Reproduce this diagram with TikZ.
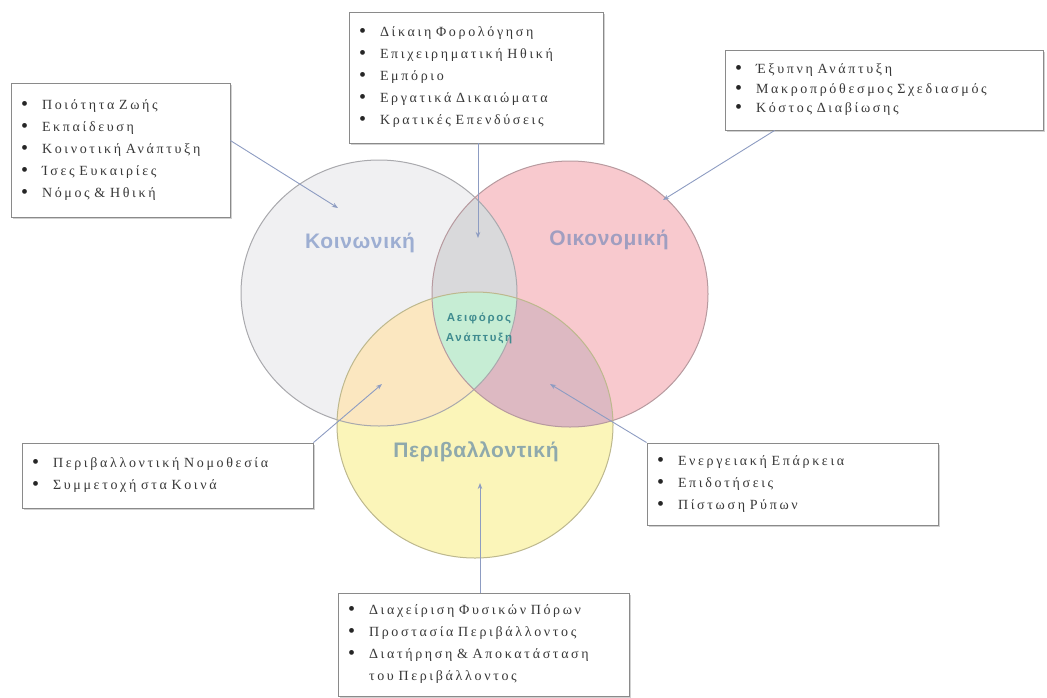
\documentclass[tikz,border=0pt]{standalone}
\usepackage{fontspec}
\setmainfont{Liberation Serif}
\newfontfamily\boxfont[LetterSpace=19]{Liberation Serif}
\newfontfamily\lblfont[LetterSpace=3]{Liberation Sans}
\newfontfamily\ctrfont[LetterSpace=15]{Liberation Sans}
\usetikzlibrary{arrows.meta,calc,shadows}
\definecolor{cL}{HTML}{F0F0F2}
\definecolor{cR}{HTML}{F8C9CE}
\definecolor{cB}{HTML}{FBF5B9}
\definecolor{cLR}{HTML}{D9D9DB}
\definecolor{cLB}{HTML}{FBE7C0}
\definecolor{cRB}{HTML}{DDB9C2}
\definecolor{cLRB}{HTML}{C6EDD4}
\definecolor{eL}{HTML}{A9A9AD}
\definecolor{eR}{HTML}{B79A9F}
\definecolor{eB}{HTML}{BDB88E}
\definecolor{cConn}{HTML}{8D9CC2}
\definecolor{boxtext}{HTML}{383838}
\definecolor{boxline}{HTML}{8A8A8A}
\definecolor{tL}{HTML}{9DAED2}
\definecolor{tR}{HTML}{A09EC0}
\definecolor{tB}{HTML}{8FA9AC}
\definecolor{tC}{HTML}{3F8B8F}
\newcommand\bitem[1]{\makebox[21pt][l]{\raisebox{-1pt}{\color{black!85}\fontsize{20}{20}\selectfont •}}#1}
\protected\def\boxsetup{\boxfont\fontsize{14}{22}\selectfont\spaceskip=8pt\relax}
\protected\def\boxsetupb{\boxfont\fontsize{14}{19.5}\selectfont\spaceskip=8pt\relax}
\tikzset{
  infobox/.style={draw=boxline, line width=0.9pt, fill=white,
    drop shadow={shadow xshift=1.5pt, shadow yshift=-1.5pt, fill=black!30, opacity=0.6},
    align=left, inner xsep=10pt, inner ysep=0pt, text=boxtext,
    font=\boxsetup},
  lbl/.style={font=\lblfont\bfseries\fontsize{21}{24}\selectfont},
  ctr/.style={font=\ctrfont\bfseries\fontsize{11.5}{20}\selectfont, text=tC, align=center},
  connector/.style={draw=cConn, line width=0.9pt, -{Stealth[length=6pt,width=4.5pt]}},
}
\def\circL{(379,293) ellipse [x radius=138pt, y radius=133pt]}
\def\circR{(570,294) ellipse [x radius=138pt, y radius=133pt]}
\def\circB{(475,425) ellipse [x radius=138pt, y radius=133pt]}
\begin{document}
\begin{tikzpicture}[x=1pt,y=-1pt]
\useasboundingbox (0,0) rectangle (1047,697);
% base fills
\fill[cL] \circL;
\fill[cR] \circR;
\fill[cB] \circB;
% pairwise overlaps
\begin{scope}\clip \circL; \fill[cLR] \circR; \end{scope}
\begin{scope}\clip \circL; \fill[cLB] \circB; \end{scope}
\begin{scope}\clip \circR; \fill[cRB] \circB; \end{scope}
\begin{scope}\clip \circL; \clip \circR; \fill[cLRB] \circB; \end{scope}
% outlines
\draw[eL, line width=1pt] \circL;
\draw[eR, line width=1pt] \circR;
\draw[eB, line width=1pt] \circB;
% labels
\node[lbl, text=tL] (kL) at (360,243) {Κοινωνική};
\node[lbl, text=tR] (kR) at (609,240) {Οικονομική};
\node[lbl, text=tB] (kB) at (476,452) {Περιβαλλοντική};
\node[ctr] (kC) at (479,328) {Αειφόρος\\Ανάπτυξη};
% boxes
\node[infobox, text width=199pt, minimum height=134pt] (b1) at (120.5,150)
  {\bitem{Ποιότητα Ζωής}\\\bitem{Εκπαίδευση}\\\bitem{Κοινοτική Ανάπτυξη}\\\bitem{Ίσες Ευκαιρίες}\\\bitem{Νόμος \& Ηθική}};
\node[infobox, text width=234pt, minimum height=131pt] (b2) at (476,77.5)
  {\bitem{Δίκαιη Φορολόγηση}\\\bitem{Επιχειρηματική Ηθική}\\\bitem{Εμπόριο}\\\bitem{Εργατικά Δικαιώματα}\\\bitem{Κρατικές Επενδύσεις}};
\node[infobox, text width=298pt, minimum height=80pt, font=\boxsetupb] (b3) at (884,90)
  {\bitem{Έξυπνη Ανάπτυξη}\\\bitem{Μακροπρόθεσμος Σχεδιασμός}\\\bitem{Κόστος Διαβίωσης}};
\node[infobox, text width=271pt, minimum height=65pt] (b4) at (167.5,475.5)
  {\bitem{Περιβαλλοντική Νομοθεσία}\\\bitem{Συμμετοχή στα Κοινά}};
\node[infobox, text width=271pt, minimum height=82pt] (b5) at (792.5,484)
  {\bitem{Ενεργειακή Επάρκεια}\\\bitem{Επιδοτήσεις}\\\bitem{Πίστωση Ρύπων}};
\node[infobox, text width=271pt, minimum height=103pt] (b6) at (483.5,644.5)
  {\bitem{Διαχείριση Φυσικών Πόρων}\\\bitem{Προστασία Περιβάλλοντος}\\\bitem{Διατήρηση \& Αποκατάσταση}\\\hspace*{21pt}του Περιβάλλοντος};
% arrow tips
\coordinate (t1) at (338,208);
\coordinate (t2) at (478,238);
\coordinate (t3) at (663,200);
\coordinate (t4) at (382,384);
\coordinate (t5) at (550,384);
\coordinate (t6) at (480,483);
% connectors
\draw[connector] ($(b1.north east)!0.43!(b1.south east)$) -- (t1);
\draw[connector] (t2 |- b2.south) -- (t2);
\draw[connector] ($(b3.south west)!0.157!(b3.south east)$) -- (t3);
\draw[connector] (b4.north east) -- (t4);
\draw[connector] (b5.north west) -- (t5);
\draw[connector] (t6 |- b6.north) -- (t6);
\end{tikzpicture}
\end{document}
